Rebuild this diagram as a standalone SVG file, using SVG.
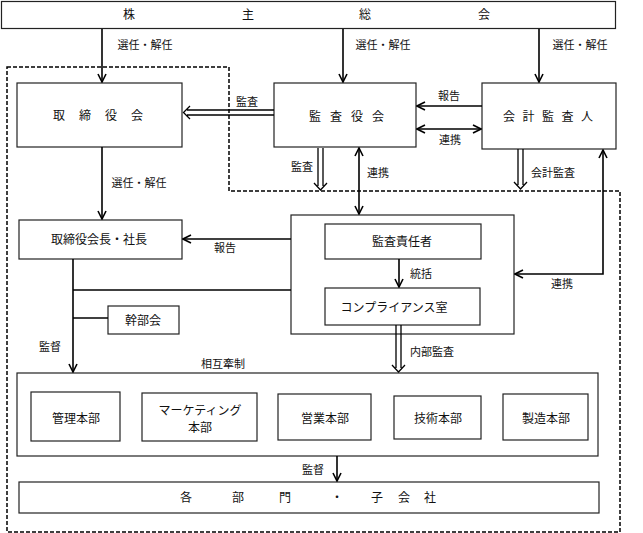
<svg xmlns="http://www.w3.org/2000/svg" width="643" height="533" viewBox="0 0 643 533">
<defs>
<style>
.box{fill:#fff;stroke:#222;stroke-width:1.2}
.t{font-family:"Noto Sans CJK JP","Noto Sans CJK SC",sans-serif;font-size:12px;fill:#111;text-anchor:middle}
.l{font-family:"Noto Sans CJK JP","Noto Sans CJK SC",sans-serif;font-size:11px;fill:#111;text-anchor:middle}
.c{fill:none;stroke:#000;stroke-width:1.6}
.d{fill:none;stroke:#000;stroke-width:1.3}
</style>
<marker id="a" viewBox="0 0 10 10" refX="9" refY="5" markerWidth="10" markerHeight="10" markerUnits="userSpaceOnUse" orient="auto-start-reverse">
<path d="M1,1 L9,5 L1,9" fill="none" stroke="#000" stroke-width="1.6"/>
</marker>
</defs>
<rect width="643" height="533" fill="#fff"/>
<path d="M7,67 H229 V191 H620 V532 H7 Z" fill="none" stroke="#000" stroke-width="1.5" stroke-dasharray="4,2"/>

<g id="shareholders">
<rect class="box" x="1.5" y="1.5" width="614" height="27"/>
<text class="t" y="19"><tspan x="129">株</tspan><tspan x="248">主</tspan><tspan x="365">総</tspan><tspan x="484">会</tspan></text>
</g>
<g id="board">
<rect class="box" x="17" y="83" width="165" height="64"/>
<text class="t" y="120"><tspan x="59">取</tspan><tspan x="85">締</tspan><tspan x="111">役</tspan><tspan x="137">会</tspan></text>
</g>
<g id="auditors">
<rect class="box" x="274" y="83" width="142" height="64"/>
<text class="t" y="121"><tspan x="315">監</tspan><tspan x="336">査</tspan><tspan x="357">役</tspan><tspan x="378">会</tspan></text>
</g>
<g id="accounting">
<rect class="box" x="482" y="83" width="134" height="66"/>
<text class="t" y="121"><tspan x="509">会</tspan><tspan x="528.5">計</tspan><tspan x="548">監</tspan><tspan x="567.5">査</tspan><tspan x="587">人</tspan></text>
</g>
<g id="president">
<rect class="box" x="19" y="220" width="163" height="39"/>
<text class="t" x="99" y="244">取締役会長・社長</text>
</g>
<g id="compliance-group">
<rect class="box" x="291" y="215" width="223" height="119"/>
</g>
<g id="audit-chief">
<rect class="box" x="325" y="224" width="156" height="35"/>
<text class="t" x="402" y="246">監査責任者</text>
</g>
<g id="compliance">
<rect class="box" x="325" y="288" width="155" height="37"/>
<text class="t" x="394" y="312">コンプライアンス室</text>
</g>
<g id="executive">
<rect class="box" x="108" y="306" width="71" height="28"/>
<text class="t" x="143" y="325">幹部会</text>
</g>
<g id="divisions">
<rect class="box" x="17" y="373" width="581" height="83"/>
</g>
<g id="admin">
<rect class="box" x="31" y="392" width="89" height="49"/>
<text class="t" x="76" y="423">管理本部</text>
</g>
<g id="marketing">
<rect class="box" x="142" y="393" width="115" height="48"/>
<text class="t" x="200" y="415">マーケティング</text>
<text class="t" x="200" y="432">本部</text>
</g>
<g id="sales">
<rect class="box" x="278" y="394" width="93" height="46"/>
<text class="t" x="325" y="423">営業本部</text>
</g>
<g id="tech">
<rect class="box" x="394" y="396" width="87" height="43"/>
<text class="t" x="438" y="423">技術本部</text>
</g>
<g id="manufacturing">
<rect class="box" x="503" y="394" width="85" height="46"/>
<text class="t" x="546" y="423">製造本部</text>
</g>
<g id="subsidiaries">
<rect class="box" x="19" y="482" width="580" height="31"/>
<text class="t" y="502"><tspan x="186">各</tspan><tspan x="238">部</tspan><tspan x="285">門</tspan><tspan x="337">・</tspan><tspan x="377">子</tspan><tspan x="404">会</tspan><tspan x="430">社</tspan></text>
</g>

<g id="connectors">
<line class="c" x1="102" y1="29" x2="102" y2="82" marker-end="url(#a)"/>
<line class="c" x1="343" y1="29" x2="343" y2="82" marker-end="url(#a)"/>
<line class="c" x1="539" y1="29" x2="539" y2="82" marker-end="url(#a)"/>
<path class="d" d="M274,110 H187 M274,115 H187 M190,106 L183.5,112.5 L190,119"/>
<line class="c" x1="482" y1="106" x2="417" y2="106" marker-end="url(#a)"/>
<line class="c" x1="417" y1="129" x2="481" y2="129" marker-start="url(#a)" marker-end="url(#a)"/>
<path class="d" d="M318,148 V186 M323,148 V186 M314,183 L320.5,190 L327,183"/>
<line class="c" x1="359" y1="148" x2="359" y2="214" marker-start="url(#a)" marker-end="url(#a)"/>
<path class="d" d="M518,149 V185 M523,149 V185 M514,182 L520.5,189 L527,182"/>
<path class="c" d="M603,150 V274 H515" marker-start="url(#a)" marker-end="url(#a)"/>
<line class="c" x1="102" y1="147" x2="102" y2="219" marker-end="url(#a)"/>
<line class="c" x1="291" y1="239" x2="183" y2="239" marker-end="url(#a)"/>
<line class="c" x1="73" y1="259" x2="73" y2="372" marker-end="url(#a)"/>
<line class="c" x1="73" y1="290" x2="291" y2="290"/>
<line class="c" x1="73" y1="318" x2="108" y2="318"/>
<line class="c" x1="399" y1="259" x2="399" y2="287" marker-end="url(#a)"/>
<path class="d" d="M396,325 V368 M401,325 V368 M392,365 L398.5,372 L405,365"/>
<line class="c" x1="337" y1="456" x2="337" y2="481" marker-end="url(#a)"/>
<text class="l" x="145" y="49">選任・解任</text>
<text class="l" x="383" y="49">選任・解任</text>
<text class="l" x="580" y="49">選任・解任</text>
<text class="l" x="247" y="106">監査</text>
<text class="l" x="449" y="100">報告</text>
<text class="l" x="450" y="144">連携</text>
<text class="l" x="302" y="171">監査</text>
<text class="l" x="378" y="177">連携</text>
<text class="l" x="553" y="177">会計監査</text>
<text class="l" x="139" y="187">選任・解任</text>
<text class="l" x="225" y="252">報告</text>
<text class="l" x="562" y="288">連携</text>
<text class="l" x="421" y="278">統括</text>
<text class="l" x="50" y="351">監督</text>
<text class="l" x="223" y="368">相互牽制</text>
<text class="l" x="432" y="356">内部監査</text>
<text class="l" x="313" y="474">監督</text>
</g>
</svg>
